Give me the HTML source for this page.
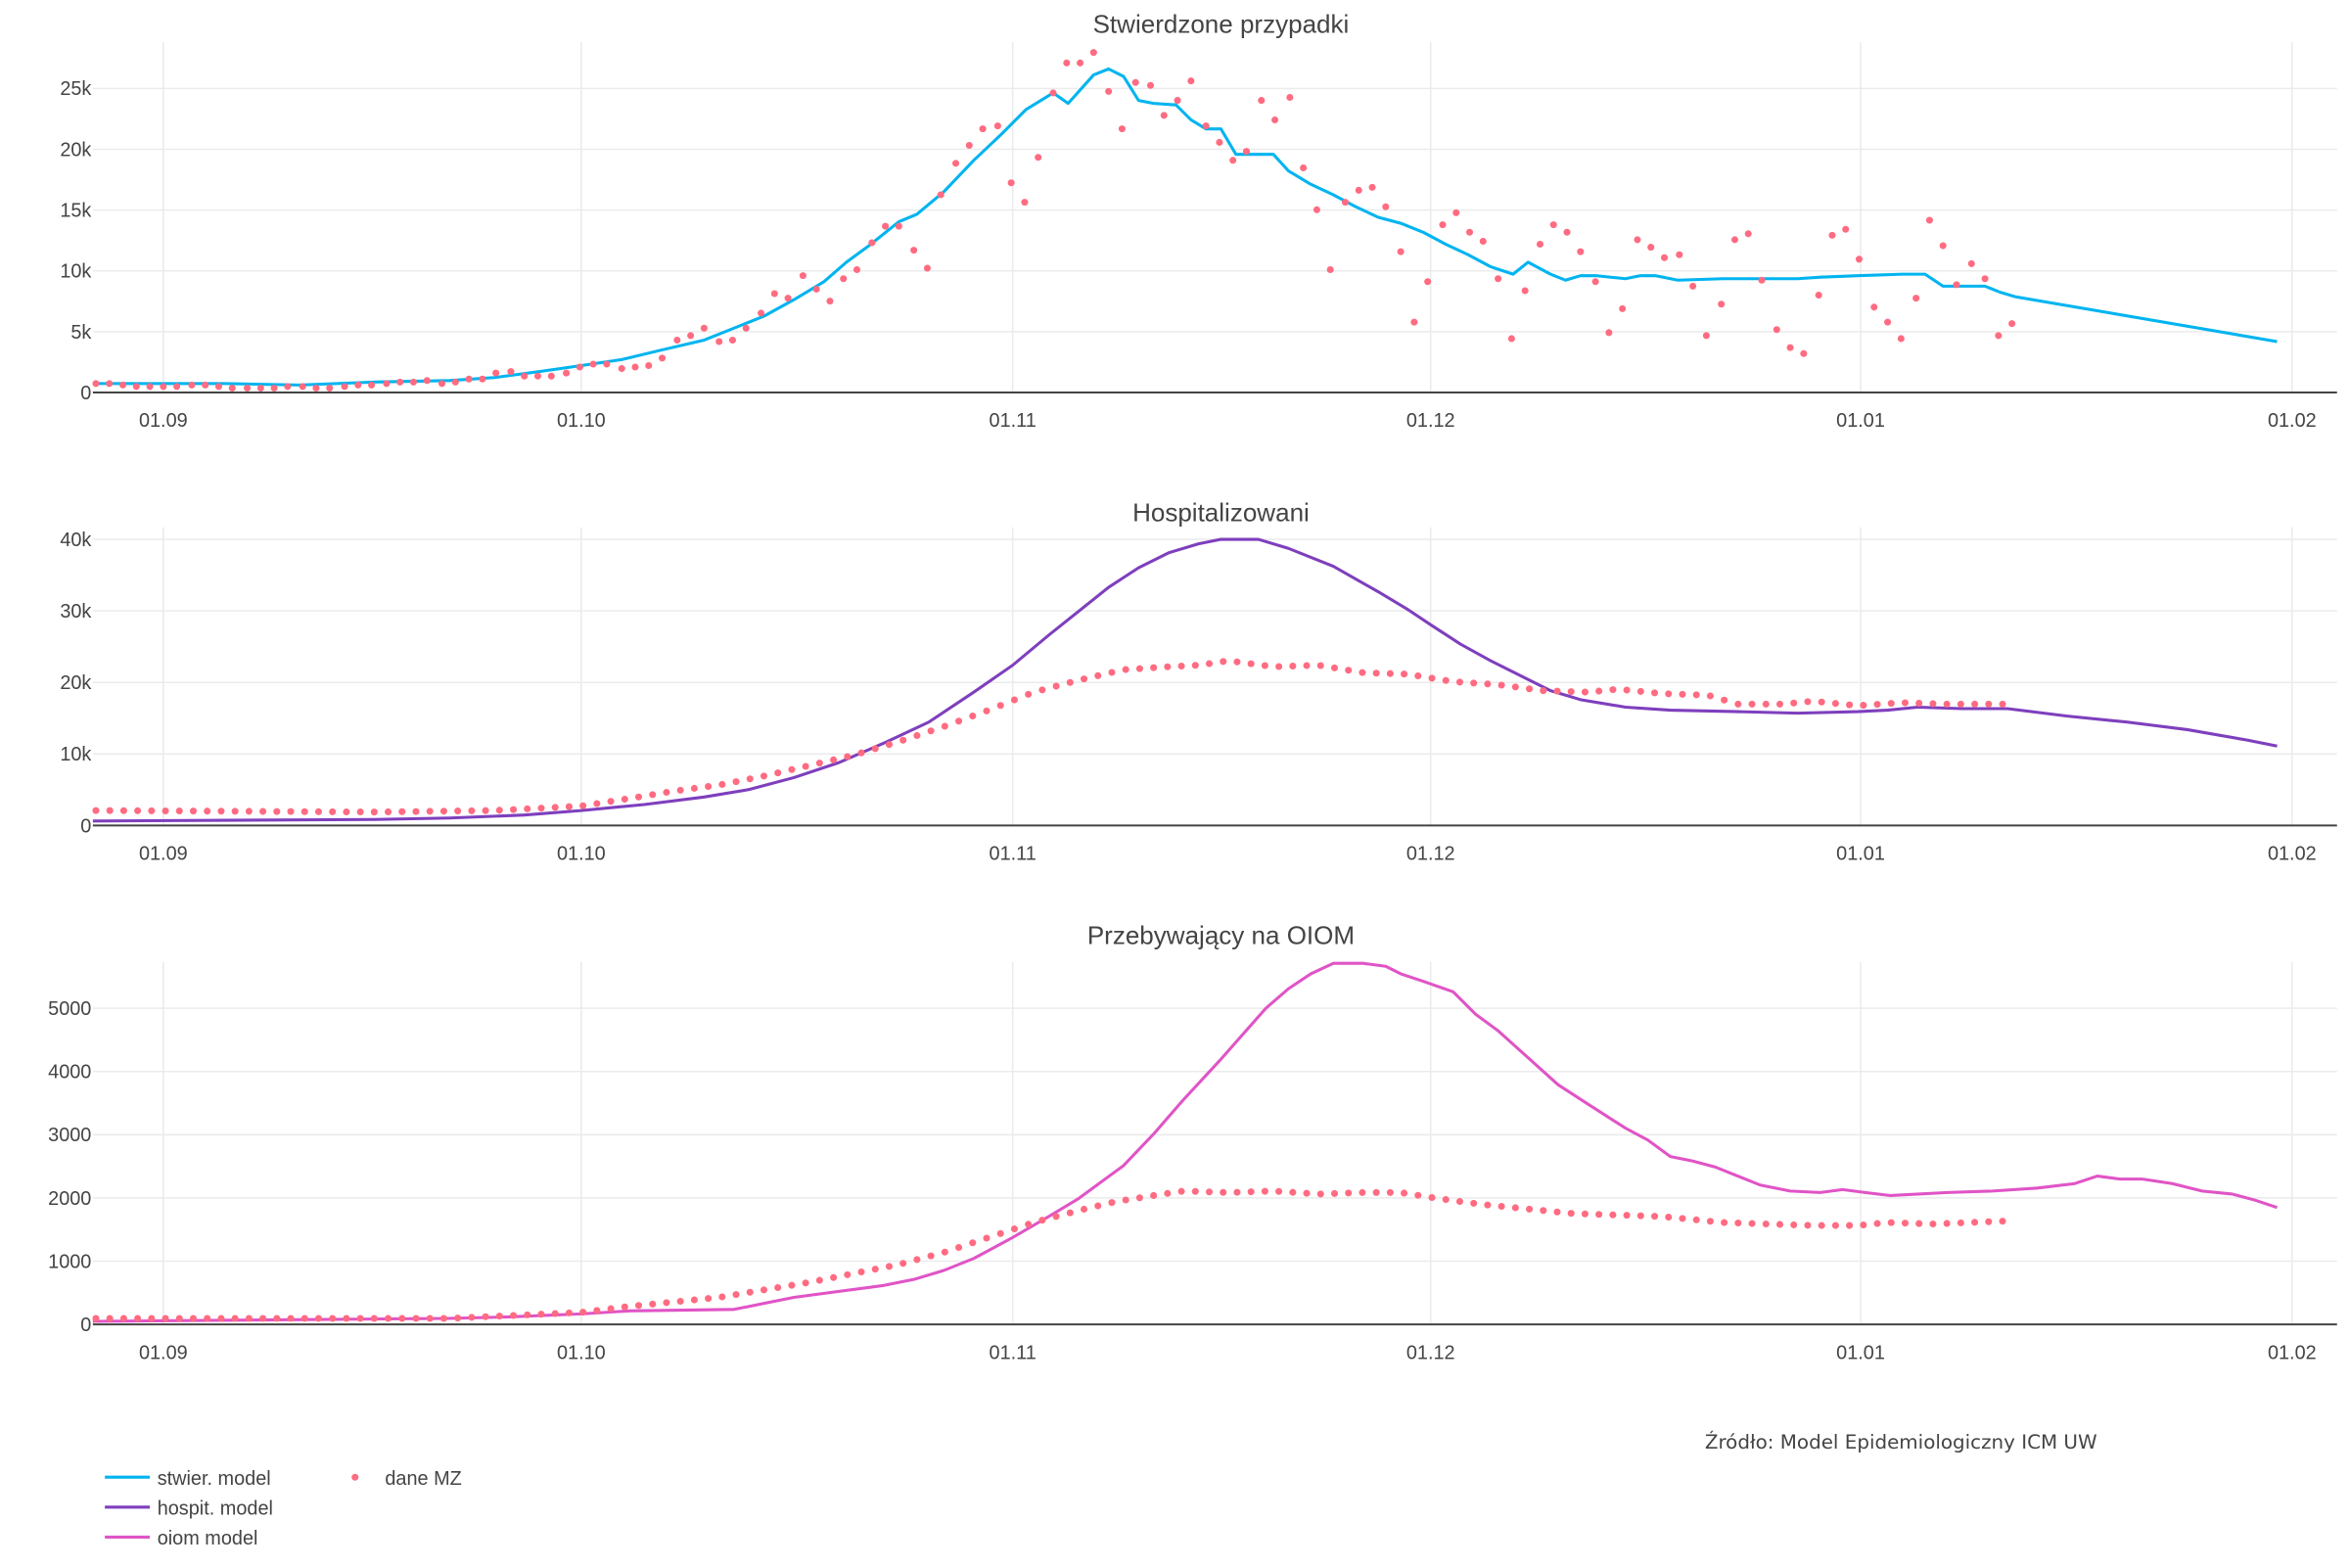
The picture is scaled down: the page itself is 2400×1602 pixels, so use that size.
<!DOCTYPE html>
<html><head><meta charset="utf-8"><style>
html,body{margin:0;padding:0;background:#fff;}
svg{display:block;}
text{font-family:"Liberation Sans","DejaVu Sans",sans-serif;fill:#444;}
</style></head><body>
<svg id="s" width="2400" height="1602" viewBox="0 0 1568 1046.6" xmlns="http://www.w3.org/2000/svg">
<g id="grid"></g>
<text x="815" y="22" font-size="17" text-anchor="middle">Stwierdzone przypadki</text>
<text x="815" y="348" font-size="17" text-anchor="middle">Hospitalizowani</text>
<text x="815" y="630" font-size="17" text-anchor="middle">Przebywający na OIOM</text>
<g id="data"></g>
<text x="1138" y="967" font-size="13" style="font-family:'DejaVu Sans',sans-serif">Źródło: Model Epidemiologiczny ICM UW</text>
<line x1="70" y1="986" x2="100" y2="986" stroke="#00b4f0" stroke-width="2"/>
<text x="105" y="991" font-size="13">stwier. model</text>
<line x1="70" y1="1006" x2="100" y2="1006" stroke="#7e3fbd" stroke-width="2"/>
<text x="105" y="1011" font-size="13">hospit. model</text>
<line x1="70" y1="1026" x2="100" y2="1026" stroke="#e054c6" stroke-width="2"/>
<text x="105" y="1031" font-size="13">oiom model</text>
<circle cx="237" cy="986" r="2.3" fill="#ff6b81"/>
<text x="257" y="991" font-size="13">dane MZ</text>
</svg>
<script>
var NS="http://www.w3.org/2000/svg";
var G=document.getElementById('grid'),D=document.getElementById('data');
function el(p,t,a,txt){var e=document.createElementNS(NS,t);for(var k in a)e.setAttribute(k,a[k]);if(txt)e.textContent=txt;p.appendChild(e);return e;}
var dates=[[109,'01.09'],[388,'01.10'],[676,'01.11'],[955,'01.12'],[1242,'01.01'],[1530,'01.02']];
var panels=[
 {top:28,base:262,ticks:[[0,'0'],[5,'5k'],[10,'10k'],[15,'15k'],[20,'20k'],[25,'25k']],k:8.12},
 {top:352,base:551,ticks:[[0,'0'],[10,'10k'],[20,'20k'],[30,'30k'],[40,'40k']],k:4.775},
 {top:642,base:884,ticks:[[0,'0'],[1000,'1000'],[2000,'2000'],[3000,'3000'],[4000,'4000'],[5000,'5000']],k:0.0422}];
panels.forEach(function(p){
 dates.forEach(function(d){el(G,'line',{x1:d[0],x2:d[0],y1:p.top,y2:p.base,stroke:'#ebebeb','stroke-width':1});
  el(G,'text',{x:d[0],y:p.base+23,'font-size':13,'text-anchor':'middle'},d[1]);});
 p.ticks.forEach(function(t){var y=p.base-t[0]*p.k;
  if(t[0]>0)el(G,'line',{x1:62,x2:1560,y1:y,y2:y,stroke:'#ebebeb','stroke-width':1});
  el(G,'text',{x:61,y:y+4.5,'font-size':13,'text-anchor':'end'},t[1]);});
 el(G,'line',{x1:62,x2:1560,y1:p.base,y2:p.base,stroke:'#444','stroke-width':1.3});
});
function line(pts,c){el(D,'polyline',{points:pts.map(function(q){return q.join(',')}).join(' '),fill:'none',stroke:c,'stroke-width':2,'stroke-linejoin':'round'});}
function dots(pts){pts.forEach(function(q){el(D,'circle',{cx:q[0],cy:q[1],r:2.3,fill:'#ff6b81'});});}
function interp(ctrl,x){for(var i=0;i<ctrl.length-1;i++){if(x<=ctrl[i+1][0]){var a=ctrl[i],b=ctrl[i+1];return a[1]+(b[1]-a[1])*(x-a[0])/(b[0]-a[0]);}}return ctrl[ctrl.length-1][1];}
function daily(ctrl){var r=[];for(var x=64;x<=1337;x+=9.29)r.push([x,interp(ctrl,x)]);return r;}
line([[62,256],[109,256],[150,256],[200,257],[250,255],[300,254],[330,252],[360,248],[388,244],[415,240],[440,234],[470,227],[490,219],[510,211],[530,200],[550,188],[565,175],[580,164],[600,148],[612,143],[630,128],[650,107],[668,90],[685,73],[703,62],[713,69],[730,50],[740,46],[750,51],[760,67],[770,69],[785,70],[795,80],[805,86],[815,86],[825,103],[835,103],[850,103],[860,114],[875,123],[890,130],[905,138],[920,145],[935,149],[950,155],[965,163],[980,170],[995,178],[1010,183],[1020,175],[1035,183],[1045,187],[1055,184],[1065,184],[1085,186],[1095,184],[1105,184],[1120,187],[1150,186],[1200,186],[1215,185],[1240,184],[1270,183],[1285,183],[1297,191],[1315,191],[1325,191],[1335,195],[1345,198],[1520,228]],'#00b4f0');
dots([[64,256],[73,256],[82,257],[91,258],[100,258],[109,258],[118,258],[128,257],[137,257],[146,258],[155,259],[165,259],[174,259],[183,259],[192,258],[202,258],[211,259],[220,259],[230,258],[239,257],[248,257],[258,256],[267,255],[276,255],[285,254],[295,256],[304,255],[313,253],[322,253],[331,249],[341,248],[350,251],[359,251],[368,251],[378,249],[387,245],[396,243],[405,243],[415,246],[424,245],[433,244],[442,239],[452,227],[461,224],[470,219],[480,228],[489,227],[498,219],[508,209],[517,196],[526,199],[536,184],[545,193],[554,201],[563,186],[572,180],[582,162],[591,151],[600,151],[610,167],[619,179],[628,130],[638,109],[647,97],[656,86],[666,84],[675,122],[684,135],[693,105],[703,62],[712,42],[721,42],[730,35],[740,61],[749,86],[758,55],[768,57],[777,77],[786,67],[795,54],[805,84],[814,95],[823,107],[832,101],[842,67],[851,80],[861,65],[870,112],[879,140],[888,180],[898,135],[907,127],[916,125],[925,138],[935,168],[944,215],[953,188],[963,150],[972,142],[981,155],[990,161],[1000,186],[1009,226],[1018,194],[1028,163],[1037,150],[1046,155],[1055,168],[1065,188],[1074,222],[1083,206],[1093,160],[1102,165],[1111,172],[1121,170],[1130,191],[1139,224],[1149,203],[1158,160],[1167,156],[1176,187],[1186,220],[1195,232],[1204,236],[1214,197],[1223,157],[1232,153],[1241,173],[1251,205],[1260,215],[1269,226],[1279,199],[1288,147],[1297,164],[1306,190],[1316,176],[1325,186],[1334,224],[1343,216]]);
line([[62,548],[250,547],[300,546],[350,544],[388,541],[430,537],[470,532],[500,527],[530,519],[560,509],[590,496],[620,482],[650,462],[676,444],[700,424],[720,408],[740,392],[760,379],[780,369],[800,363],[815,360],[840,360],[860,366],[890,378],[920,395],[940,407],[955,417],[975,430],[995,441],[1015,451],[1035,461],[1055,467],[1085,472],[1115,474],[1160,475],[1200,476],[1240,475],[1260,474],[1280,472],[1310,473],[1340,473],[1380,478],[1420,482],[1460,487],[1500,494],[1520,498]],'#7e3fbd');
dots(daily([[64,541],[250,542],[330,541],[388,538],[420,533],[450,528],[480,524],[510,518],[540,511],[570,504],[600,495],[630,485],[660,474],[690,462],[720,454],[750,447],[780,445],[800,444],[820,441],[850,445],[880,444],[910,449],[940,450],[970,455],[1000,457],[1030,461],[1060,462],[1080,460],[1110,463],[1140,464],[1160,470],[1190,470],[1210,468],[1240,471],[1270,469],[1300,470],[1340,470]]));
line([[62,882],[300,880],[340,879],[388,877],[420,875],[490,874],[510,870],[530,866],[560,862],[590,858],[610,854],[630,848],[650,840],[676,826],[700,812],[720,800],[750,778],[770,757],[790,734],[815,707],[830,690],[845,673],[860,660],[875,650],[890,643],[910,643],[925,645],[935,650],[950,655],[970,662],[985,677],[1000,688],[1020,706],[1040,724],[1060,737],[1085,753],[1100,761],[1115,772],[1130,775],[1145,779],[1160,785],[1175,791],[1195,795],[1215,796],[1230,794],[1245,796],[1262,798],[1300,796],[1330,795],[1360,793],[1385,790],[1400,785],[1415,787],[1430,787],[1450,790],[1470,795],[1490,797],[1505,801],[1520,806]],'#e054c6');
dots(daily([[64,880],[300,880],[388,876],[420,872],[480,866],[510,861],[540,856],[570,850],[600,844],[630,836],[660,826],[690,816],[720,808],[745,802],[770,798],[790,795],[820,796],[850,795],[880,797],[910,796],[935,796],[960,800],[990,804],[1020,807],[1050,810],[1080,811],[1110,812],[1150,816],[1180,817],[1210,818],[1240,818],[1260,816],[1290,817],[1340,815]]));
</script>
</body></html>
